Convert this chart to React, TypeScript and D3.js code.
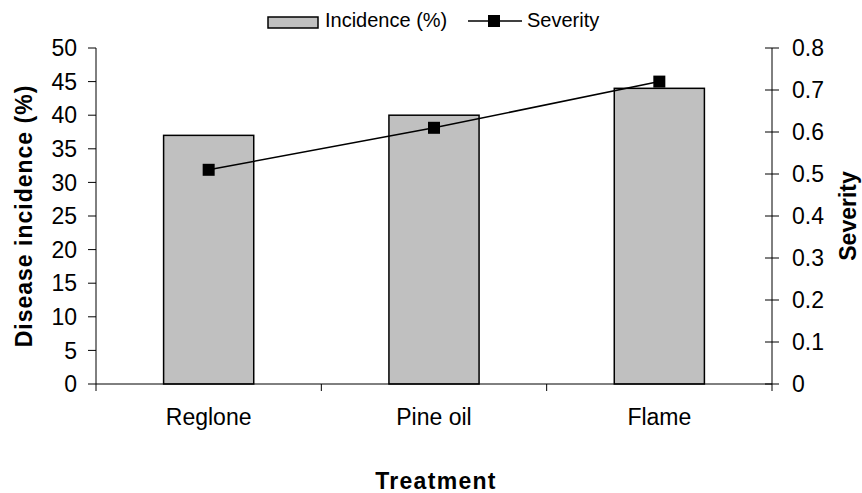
import React from "react";
import * as d3 from "d3";

const categories = ["Reglone", "Pine oil", "Flame"];
const incidence = [37, 40, 44];
const severity = [0.51, 0.61, 0.72];
const leftTicks = [0, 5, 10, 15, 20, 25, 30, 35, 40, 45, 50];
const rightTicks = [0, 0.1, 0.2, 0.3, 0.4, 0.5, 0.6, 0.7, 0.8];

const W = 862;
const H = 493;
const plot = { left: 96, right: 772, top: 48, bottom: 384 };
const font = "Liberation Sans, Arial, sans-serif";
const tickSize = 23;

export default function App() {
  const x = d3
    .scaleBand<string>()
    .domain(categories)
    .range([plot.left, plot.right])
    .paddingInner(0.6)
    .paddingOuter(0.3);
  const step = x.step();
  const yL = d3.scaleLinear().domain([0, 50]).range([plot.bottom, plot.top]);
  const yR = d3.scaleLinear().domain([0, 0.8]).range([plot.bottom, plot.top]);
  const cx = (c: string) => (x(c) as number) + x.bandwidth() / 2;

  const line = d3
    .line<number>()
    .x((_, i) => cx(categories[i]))
    .y((d) => yR(d));

  const boundaries = d3.range(categories.length + 1).map((i) => plot.left + i * step);
  const midY = (plot.top + plot.bottom) / 2;

  return (
    <svg
      width={W}
      height={H}
      style={{ position: "absolute", left: 0, top: 0, background: "#fff" }}
      fontFamily={font}
    >
      {/* bars */}
      {categories.map((c, i) => (
        <rect
          key={c}
          x={x(c)}
          y={yL(incidence[i])}
          width={x.bandwidth()}
          height={plot.bottom - yL(incidence[i])}
          fill="#c0c0c0"
          stroke="#000"
          strokeWidth={1.5}
        />
      ))}

      {/* severity line */}
      <path d={line(severity) || ""} fill="none" stroke="#000" strokeWidth={1.5} />
      {severity.map((v, i) => (
        <rect key={i} x={cx(categories[i]) - 6} y={yR(v) - 6} width={12} height={12} fill="#000" />
      ))}

      {/* left axis */}
      <line x1={plot.left} x2={plot.left} y1={plot.top} y2={plot.bottom} stroke="#000" />
      {leftTicks.map((t) => (
        <g key={t}>
          <line x1={plot.left - 8} x2={plot.left} y1={yL(t)} y2={yL(t)} stroke="#000" />
          <text x={plot.left - 19} y={yL(t)} dy="0.36em" textAnchor="end" fontSize={tickSize}>
            {t}
          </text>
        </g>
      ))}

      {/* right axis */}
      <line x1={plot.right} x2={plot.right} y1={plot.top} y2={plot.bottom} stroke="#000" />
      {rightTicks.map((t) => (
        <g key={t}>
          <line x1={plot.right - 7} x2={plot.right + 7} y1={yR(t)} y2={yR(t)} stroke="#000" />
          <text x={plot.right + 20} y={yR(t)} dy="0.36em" textAnchor="start" fontSize={tickSize}>
            {t === 0 ? "0" : d3.format(".1f")(t)}
          </text>
        </g>
      ))}

      {/* bottom axis */}
      <line x1={plot.left} x2={plot.right} y1={plot.bottom} y2={plot.bottom} stroke="#000" />
      {boundaries.map((b, i) => (
        <line key={i} x1={b} x2={b} y1={plot.bottom} y2={plot.bottom + 7} stroke="#000" />
      ))}
      {categories.map((c) => (
        <text key={c} x={cx(c)} y={425} textAnchor="middle" fontSize={tickSize}>
          {c}
        </text>
      ))}

      {/* axis titles */}
      <text
        x={436}
        y={489}
        textAnchor="middle"
        fontSize={tickSize}
        fontWeight="bold"
        letterSpacing={1.3}
      >
        Treatment
      </text>
      <text
        transform={`translate(32, ${midY}) rotate(-90)`}
        textAnchor="middle"
        fontSize={tickSize}
        fontWeight="bold"
        letterSpacing={1}
      >
        Disease incidence (%)
      </text>
      <text
        transform={`translate(856, ${midY}) rotate(-90)`}
        textAnchor="middle"
        fontSize={tickSize}
        fontWeight="bold"
      >
        Severity
      </text>

      {/* legend */}
      <rect x={268} y={17} width={50} height={11} fill="#c0c0c0" stroke="#000" strokeWidth={1.5} />
      <text x={325} y={26.5} fontSize={20}>
        Incidence (%)
      </text>
      <line x1={468} x2={522} y1={21} y2={21} stroke="#000" strokeWidth={1.5} />
      <rect x={488} y={15} width={12} height={12} fill="#000" />
      <text x={527} y={26.5} fontSize={20}>
        Severity
      </text>
    </svg>
  );
}
